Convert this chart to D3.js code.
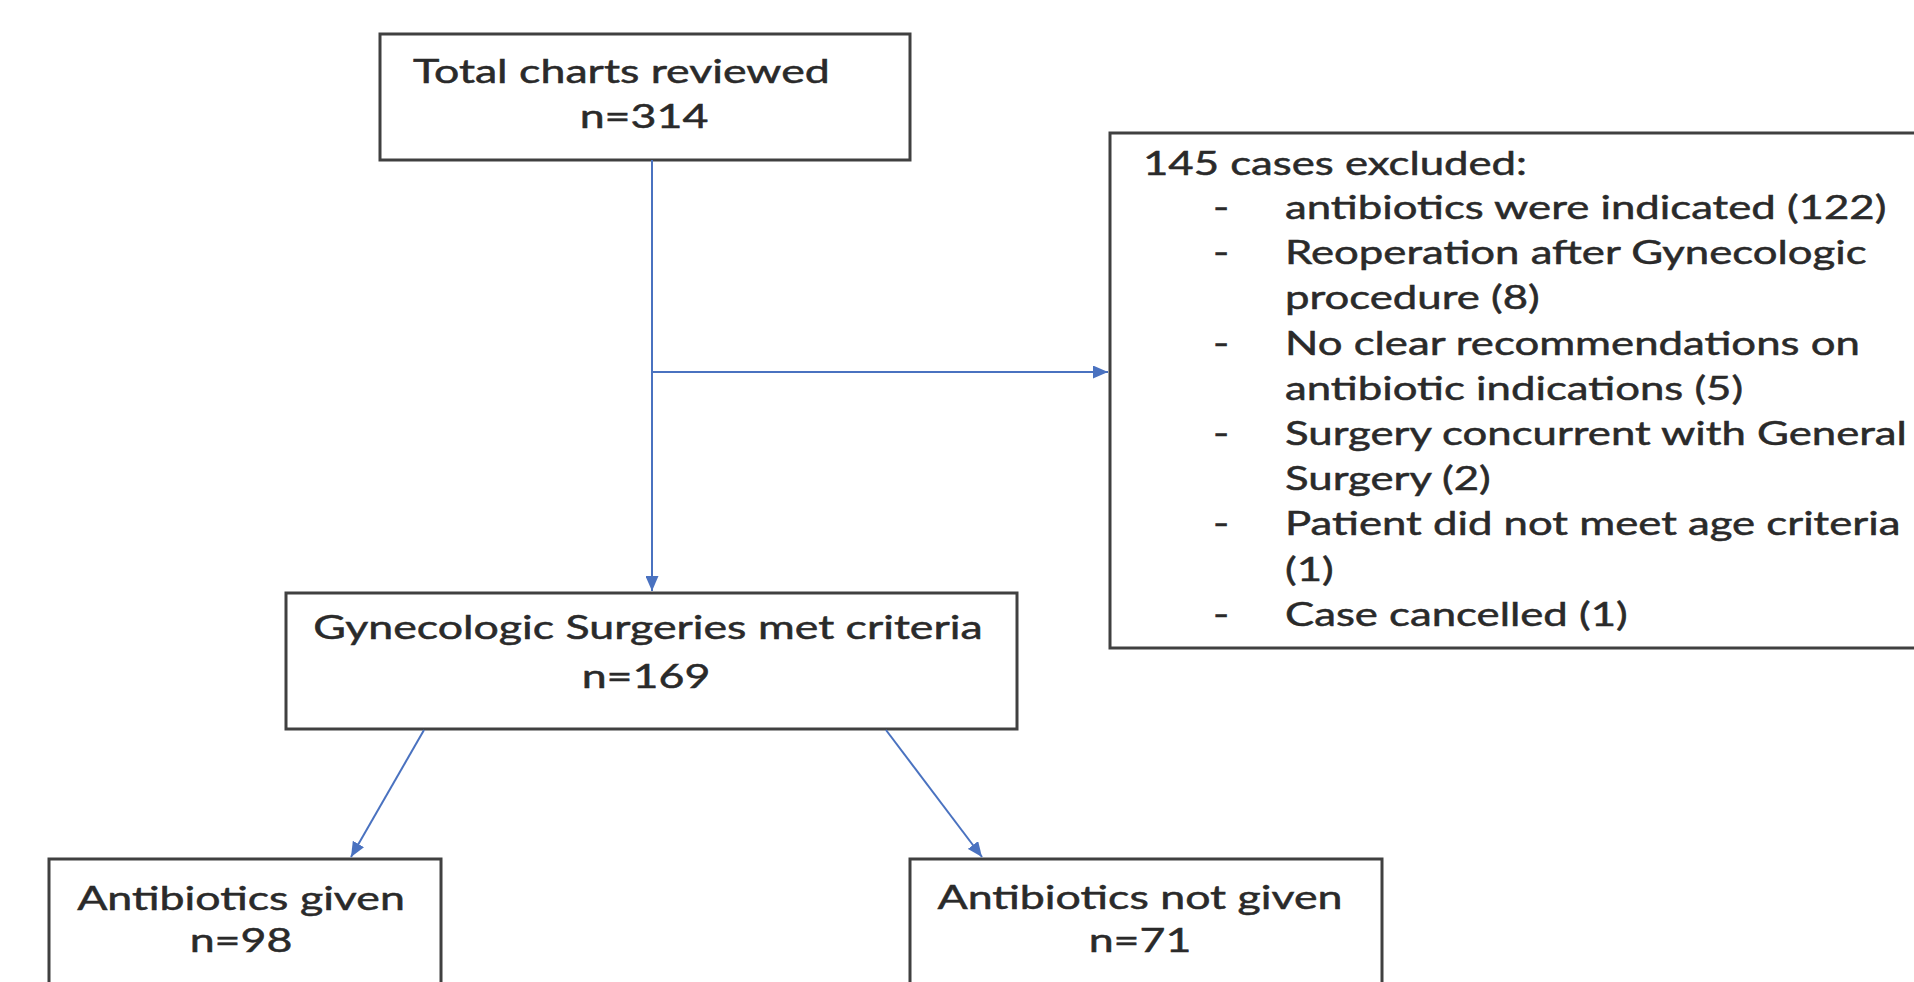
<!DOCTYPE html>
<html><head><meta charset="utf-8">
<script src="https://cdn.jsdelivr.net/npm/d3@7"></script>
<style>html,body{margin:0;padding:0;background:#fff;overflow:hidden}</style>
</head><body>
<svg id="chart" width="1914" height="982"></svg>
<script>
// ---- data ----
const totalLabel = "Total charts reviewed";
const totalN = 314;
const metLabel = "Gynecologic Surgeries met criteria";
const metN = 169;
const givenLabel = "Antibiotics given";
const givenN = 98;
const notGivenLabel = "Antibiotics not given";
const notGivenN = 71;
const excludedN = 145;
const exclusionLines = [
  ["antibiotics were indicated (122)"],
  ["Reoperation after Gynecologic", "procedure (8)"],
  ["No clear recommendations on", "antibiotic indications (5)"],
  ["Surgery concurrent with General", "Surgery (2)"],
  ["Patient did not meet age criteria", "(1)"],
  ["Case cancelled (1)"]
];

// ---- layout ----
const svg = d3.select("#chart");
const FONT = "Lato, 'Open Sans', sans-serif";
const FS = 33;
const SX = 1.355;
const SX_EX = 1.325;
const boxStroke = "#404040";
const arrowColor = "#4a72c0";
const textColor = "#2a2a2a";

svg.append("defs").append("marker")
  .attr("id","arr").attr("viewBox","0 0 10 10").attr("refX",10).attr("refY",5)
  .attr("markerWidth",15).attr("markerHeight",13).attr("markerUnits","userSpaceOnUse")
  .attr("orient","auto").attr("preserveAspectRatio","none")
  .append("path").attr("d","M0,0 L10,5 L0,10 z").attr("fill",arrowColor);

const boxes = [
  {x:380, y:34, w:530, h:126},
  {x:286, y:593, w:731, h:136},
  {x:49, y:859, w:392, h:160},
  {x:910, y:859, w:472, h:160},
  {x:1110, y:133, w:840, h:515}
];
svg.selectAll("rect.box").data(boxes).enter().append("rect")
  .attr("class","box")
  .attr("x",d=>d.x).attr("y",d=>d.y).attr("width",d=>d.w).attr("height",d=>d.h)
  .attr("fill","#fff").attr("stroke",boxStroke).attr("stroke-width",3);

// arrows
const line = d3.line();
const arrows = [
  {pts:[[652,160],[652,591]]},
  {pts:[[652,372],[1108,372]]},
  {pts:[[424,730],[351,857]]},
  {pts:[[886,730],[982,857]]}
];
svg.selectAll("path.arrow").data(arrows).enter().append("path")
  .attr("class","arrow")
  .attr("d",d=>line(d.pts)).attr("fill","none")
  .attr("stroke",arrowColor).attr("stroke-width",2)
  .attr("marker-end","url(#arr)");

// texts (y = baseline)
const texts = [
  {t:totalLabel, x:413, y:83, anchor:"start", sx:SX},
  {t:"n="+totalN, x:644, y:128, anchor:"middle", sx:SX},
  {t:metLabel, x:648, y:639, anchor:"middle", sx:SX},
  {t:"n="+metN, x:646, y:688, anchor:"middle", sx:SX},
  {t:givenLabel, x:241, y:910, anchor:"middle", sx:SX},
  {t:"n="+givenN, x:241, y:952, anchor:"middle", sx:SX},
  {t:notGivenLabel, x:1140, y:909, anchor:"middle", sx:SX},
  {t:"n="+notGivenN, x:1140, y:952, anchor:"middle", sx:SX},
  {t:excludedN+" cases excluded:", x:1143, y:175, anchor:"start", sx:SX_EX}
];
let row = 0;
exclusionLines.forEach(item=>{
  texts.push({t:"-", x:1213, y:219 + row*45.2, anchor:"start", sx:SX_EX});
  item.forEach(s=>{
    texts.push({t:s, x:1285, y:219 + row*45.2, anchor:"start", sx:SX_EX});
    row++;
  });
});

svg.selectAll("text.lbl").data(texts).enter().append("text")
  .attr("class","lbl")
  .attr("transform",d=>`translate(${d.x},${d.y}) scale(${d.sx},1)`)
  .attr("text-anchor",d=>d.anchor)
  .attr("font-family",FONT).attr("font-size",FS)
  .attr("fill",textColor).attr("stroke",textColor).attr("stroke-width",0.5)
  .text(d=>d.t);
</script>
</body></html>
